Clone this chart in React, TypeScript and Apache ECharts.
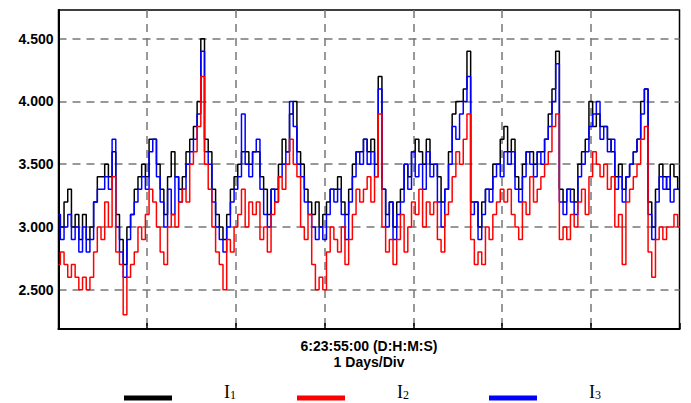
import React, { useEffect, useRef } from 'react';
import * as echarts from 'echarts';

// Hourly readings over 7 days (hour 0 .. 168)
const I1 = [
  3.1, 3.0, 3.2, 3.3, 3.0, 3.1, 2.9, 3.1, 2.9, 3.0,
  3.2, 3.4, 3.4, 3.5, 3.4, 3.6, 3.1, 2.9, 2.7, 3.0,
  3.1, 3.3, 3.4, 3.5, 3.4, 3.7, 3.7, 3.5, 3.3, 3.1,
  3.4, 3.6, 3.4, 3.3, 3.4, 3.6, 3.7, 3.8, 4.0, 4.5,
  3.7, 3.6, 3.3, 3.1, 3.0, 2.9, 3.1, 3.3, 3.4, 3.5,
  3.6, 3.6, 3.5, 3.6, 3.6, 3.4, 3.3, 3.1, 3.3, 3.3,
  3.5, 3.7, 3.6, 3.9, 4.0, 3.6, 3.5, 3.3, 3.2, 3.1,
  3.2, 3.0, 3.1, 3.2, 3.3, 3.3, 3.4, 3.2, 3.1, 3.3,
  3.5, 3.6, 3.6, 3.7, 3.6, 3.7, 3.5, 4.2, 3.3, 3.1,
  3.2, 3.0, 3.2, 3.3, 3.5, 3.4, 3.6, 3.7, 3.6, 3.5,
  3.7, 3.5, 3.5, 3.4, 3.2, 3.3, 3.6, 3.9, 4.0, 4.0,
  4.1, 4.4, 3.2, 3.2, 3.0, 3.2, 3.3, 3.3, 3.5, 3.5,
  3.7, 3.8, 3.6, 3.7, 3.4, 3.3, 3.5, 3.6, 3.6, 3.5,
  3.6, 3.6, 3.7, 3.9, 4.1, 4.4, 3.3, 3.2, 3.3, 3.3,
  3.2, 3.5, 3.6, 3.7, 4.0, 3.8, 3.9, 3.8, 3.8, 3.7,
  3.6, 3.4, 3.5, 3.3, 3.4, 3.5, 3.6, 3.7, 4.0, 4.1,
  3.2, 3.0, 3.3, 3.5, 3.4, 3.3, 3.5, 3.4, 3.3,
];
const I2 = [
  2.7, 2.8, 2.7, 2.6, 2.7, 2.6, 2.5, 2.6, 2.5, 2.6,
  2.8, 3.0, 2.9, 3.2, 3.0, 3.4, 2.8, 2.7, 2.3, 2.6,
  2.7, 2.8, 3.0, 2.9, 3.1, 3.3, 3.2, 3.0, 2.8, 2.7,
  3.0, 3.1, 3.0, 3.2, 3.3, 3.2, 3.5, 3.6, 3.8, 4.2,
  3.5, 3.3, 3.0, 2.8, 2.7, 2.5, 2.9, 2.8, 3.0, 3.1,
  3.3, 3.0, 3.2, 3.1, 3.2, 2.9, 3.0, 2.8, 3.1, 3.2,
  3.4, 3.3, 3.5, 3.7, 3.5, 3.4, 3.0, 2.9, 3.1, 2.7,
  2.5, 2.6, 2.5, 2.8, 3.0, 2.9, 2.8, 3.0, 2.7, 2.9,
  3.1, 3.3, 3.2, 3.3, 3.4, 3.2, 3.4, 3.9, 3.0, 2.8,
  2.9, 2.7, 2.9, 3.1, 2.8, 3.0, 3.2, 3.1, 3.3, 3.0,
  3.2, 3.1, 3.2, 2.9, 2.8, 3.1, 3.2, 3.4, 3.6, 3.5,
  3.7, 3.9, 2.9, 2.7, 2.8, 2.7, 3.0, 2.9, 3.1, 3.2,
  3.3, 3.2, 3.3, 3.1, 3.0, 2.9, 3.2, 3.1, 3.4, 3.2,
  3.3, 3.4, 3.5, 3.6, 3.8, 3.9, 2.9, 3.0, 2.9, 3.1,
  3.0, 3.2, 3.3, 3.1, 3.4, 3.6, 3.5, 3.4, 3.5, 3.3,
  3.4, 3.0, 3.1, 2.7, 3.2, 3.3, 3.4, 3.5, 3.7, 3.8,
  2.8, 2.6, 2.9, 3.0, 2.9, 3.0, 3.0, 3.1, 3.0,
];
const I3 = [
  3.1, 2.9, 3.0, 3.1, 2.9, 3.0, 2.8, 3.0, 2.8, 2.9,
  3.2, 3.3, 3.3, 3.4, 3.3, 3.7, 3.0, 2.8, 2.6, 2.9,
  3.1, 3.2, 3.3, 3.4, 3.3, 3.6, 3.7, 3.4, 3.2, 3.0,
  3.3, 3.1, 3.4, 3.2, 3.3, 3.5, 3.6, 3.7, 3.9, 4.4,
  3.6, 3.5, 3.2, 3.0, 2.9, 2.8, 3.0, 3.2, 3.3, 3.4,
  3.9, 3.5, 3.4, 3.6, 3.7, 3.3, 3.1, 3.0, 3.3, 3.2,
  3.4, 3.5, 3.6, 4.0, 3.8, 3.5, 3.4, 3.2, 3.1, 3.0,
  2.9, 3.0, 2.9, 3.1, 3.3, 3.2, 3.3, 3.1, 2.9, 3.2,
  3.4, 3.6, 3.5, 3.7, 3.5, 3.6, 3.4, 4.1, 3.3, 3.0,
  3.2, 2.9, 3.1, 3.2, 3.5, 3.3, 3.6, 3.4, 3.5, 3.3,
  3.6, 3.4, 3.5, 3.2, 3.0, 3.3, 3.5, 3.8, 3.7, 3.9,
  4.0, 4.2, 3.1, 3.2, 2.9, 3.1, 3.3, 3.2, 3.4, 3.5,
  3.4, 3.6, 3.5, 3.6, 3.3, 3.2, 3.4, 3.6, 3.5, 3.4,
  3.6, 3.5, 3.7, 3.8, 4.0, 4.3, 3.2, 3.1, 3.3, 3.2,
  3.1, 3.4, 3.5, 3.6, 3.8, 3.9, 4.0, 3.7, 3.8, 3.6,
  3.7, 3.3, 3.4, 3.2, 3.4, 3.5, 3.6, 3.7, 3.9, 4.1,
  3.1, 2.9, 3.2, 3.4, 3.3, 3.4, 3.2, 3.3, 3.3,
];

const yTicks = [2.5, 3.0, 3.5, 4.0, 4.5];
const xAxisName = '6:23:55:00 (D:H:M:S)\n1 Days/Div';
const seriesNames = ['I1', 'I2', 'I3'];
const seriesColors = ['#000000', '#ff0000', '#0000ff'];
const legendLefts = [124, 297, 489];

export default function App() {
  const ref = useRef<HTMLDivElement>(null);

  useEffect(() => {
    document.body.style.margin = '0';
    const chart = echarts.init(ref.current!, null, { renderer: 'svg' });
    const dataSets = [I1, I2, I3];
    const toPairs = (arr: number[]) => arr.map((v, i) => [i, v]);
    const drawOrder = [0, 2, 1];

    const option: any = {
      animation: false,
      backgroundColor: '#ffffff',
      grid: {
        left: 58.5,
        right: 11.5,
        top: 10,
        bottom: 74,
        show: true,
        borderColor: '#000000',
        borderWidth: 1.5,
        backgroundColor: 'transparent',
        outerBoundsMode: 'none',
      },
      legend: seriesNames.map((name, k) => ({
        data: [name],
        left: legendLefts[k],
        top: 383,
        padding: 0,
        icon: 'rect',
        itemWidth: 48,
        itemHeight: 5,
        selectedMode: false,
        formatter: (n: string) => `{i|I}{s|${n.slice(1)}}`,
        textStyle: {
          padding: [0, 0, 14, 47],
          rich: {
            i: {
              fontFamily: 'Liberation Serif',
              fontSize: 18,
              color: '#000',
              lineHeight: 20,
              verticalAlign: 'bottom',
            },
            s: {
              fontFamily: 'Liberation Serif',
              fontSize: 12,
              color: '#000',
              lineHeight: 20,
              verticalAlign: 'bottom',
            },
          },
        },
      })),
      xAxis: {
        type: 'value',
        min: 0,
        max: 168,
        interval: 24,
        name: xAxisName,
        nameLocation: 'middle',
        nameGap: 9,
        nameTextStyle: {
          fontFamily: 'Liberation Sans',
          fontWeight: 'bold',
          fontSize: 14,
          lineHeight: 16,
          color: '#000',
        },
        axisLine: { show: true, lineStyle: { color: '#000', width: 2 } },
        axisTick: { show: true, inside: true, length: 6, lineStyle: { color: '#000', width: 1.5 } },
        axisLabel: { show: false },
        splitLine: {
          show: true,
          showMinLine: false,
          showMaxLine: false,
          lineStyle: { color: '#777777', width: 1.5, type: [8, 6] },
        },
      },
      yAxis: {
        type: 'value',
        min: 2.187,
        max: 4.729,
        axisLine: { show: true, lineStyle: { color: '#000', width: 2 } },
        axisTick: { show: false },
        axisLabel: {
          show: true,
          showMinLabel: false,
          showMaxLabel: false,
          margin: 5,
          fontFamily: 'Liberation Sans',
          fontWeight: 'bold',
          fontSize: 14,
          color: '#000',
          formatter: (v: number) => {
            const r = Math.round(v * 10) / 10;
            return yTicks.some((t) => Math.abs(t - v) < 1e-6) ? r.toFixed(3) : '';
          },
        },
        splitLine: {
          show: true,
          showMinLine: false,
          showMaxLine: false,
          lineStyle: { color: '#777777', width: 1.5, type: [8, 6] },
        },
      },
      series: drawOrder.map((k) => ({
        name: seriesNames[k],
        type: 'line',
        data: toPairs(dataSets[k]),
        step: 'middle',
        showSymbol: false,
        symbol: 'none',
        color: seriesColors[k],
        lineStyle: { color: seriesColors[k], width: 1.5 },
        silent: true,
      })),
    };

    chart.setOption(option);
    return () => chart.dispose();
  }, []);

  return <div ref={ref} style={{ width: 691, height: 403 }} />;
}
